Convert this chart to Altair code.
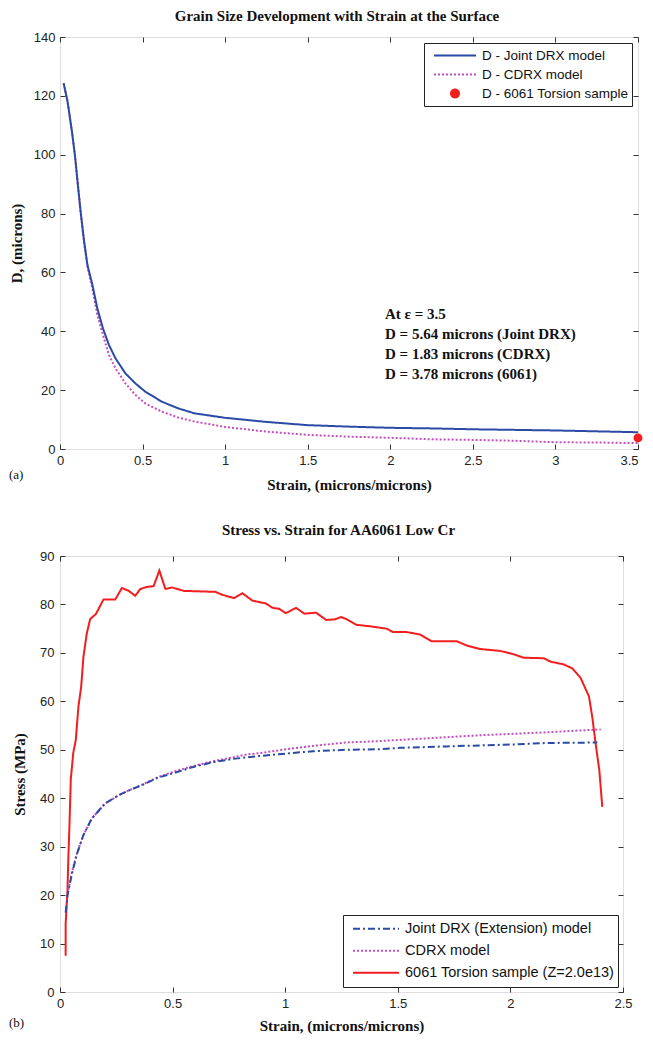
import altair as alt
import pandas as pd

# ---------------- Panel (a): grain size vs strain ----------------
SERIES_A = ["D - Joint DRX model", "D - CDRX model", "D - 6061 Torsion sample"]

strain_joint_a = [0.022, 0.046, 0.072, 0.09, 0.106, 0.126, 0.146, 0.166, 0.196, 0.226, 0.26, 0.296,
                  0.336, 0.396, 0.456, 0.516, 0.616, 0.716, 0.816, 1.0, 1.25, 1.5, 1.75, 2.0, 2.25,
                  2.5, 2.75, 3.0, 3.25, 3.5]
D_joint_a = [124.3, 118, 108, 100, 91, 80, 70.5, 62.6, 55.8, 47.8, 41, 35.4,
             30.8, 25.7, 22.3, 19.5, 16.1, 13.8, 12.1, 10.6, 9.2, 8.1, 7.6, 7.2, 7.0,
             6.7, 6.5, 6.3, 6.0, 5.7]

strain_cdrx_a = [0.022, 0.046, 0.072, 0.09, 0.106, 0.126, 0.146, 0.166, 0.196, 0.226, 0.26, 0.296,
                 0.336, 0.396, 0.456, 0.516, 0.616, 0.716, 0.816, 1.0, 1.25, 1.5, 1.75, 2.0, 2.25,
                 2.5, 2.75, 3.0, 3.25, 3.5]
D_cdrx_a = [124.3, 118, 108, 100, 91, 80, 70.5, 62.0, 54.6, 45.6, 38.8, 32.0,
            27.4, 22.3, 18.4, 15.5, 12.7, 10.7, 9.3, 7.5, 5.9, 4.8, 4.2, 3.8, 3.3,
            3.1, 2.8, 2.3, 2.2, 2.0]

sample_strain_a = [3.5]
sample_D_a = [3.78]

x_ticks_a = [0, 0.5, 1, 1.5, 2, 2.5, 3, 3.5]
y_ticks_a = [0, 20, 40, 60, 80, 100, 120, 140]

note_lines_a = ["At \u03b5 = 3.5", "D = 5.64 microns (Joint DRX)",
                "D = 1.83 microns (CDRX)", "D = 3.78 microns (6061)"]
note_strain_a = [1.968, 1.968, 1.968, 1.968]
note_D_a = [45.9, 39.1, 32.3, 25.5]

# ---------------- Panel (b): stress vs strain ----------------
SERIES_B = ["Joint DRX (Extension) model", "CDRX model", "6061 Torsion sample (Z=2.0e13)"]

strain_joint_b = [0.025, 0.034, 0.052, 0.074, 0.104, 0.141, 0.2, 0.26, 0.305, 0.364, 0.438, 0.513,
                  0.587, 0.676, 0.765, 0.825, 0.884, 0.973, 1.122, 1.271, 1.42, 1.51, 1.717, 2.015,
                  2.163, 2.386]
stress_joint_b = [16.4, 20.1, 24.2, 28.3, 32.4, 35.8, 38.9, 40.6, 41.6, 42.7, 44.3, 45.3,
                  46.4, 47.4, 48.1, 48.4, 48.7, 49.1, 49.7, 50.0, 50.1, 50.4, 50.7, 51.1,
                  51.4, 51.5]

strain_cdrx_b = [0.03, 0.052, 0.074, 0.104, 0.141, 0.2, 0.26, 0.305, 0.364, 0.438, 0.513, 0.587,
                 0.676, 0.765, 0.825, 0.884, 0.973, 1.122, 1.271, 1.42, 1.568, 1.717, 1.866, 2.015,
                 2.163, 2.312, 2.401]
stress_cdrx_b = [19.5, 24.5, 28.5, 32.4, 35.8, 38.9, 40.6, 41.6, 42.8, 44.4, 45.6, 46.6,
                 47.6, 48.4, 49.0, 49.3, 49.9, 50.8, 51.5, 51.8, 52.2, 52.6, 53.0, 53.3,
                 53.6, 54.0, 54.2]

strain_sample_b = [0.025, 0.025, 0.033, 0.037, 0.042, 0.048, 0.059, 0.07, 0.082, 0.094, 0.104, 0.119,
                   0.134, 0.159, 0.193, 0.245, 0.275, 0.305, 0.334, 0.357, 0.386, 0.416, 0.441, 0.468,
                   0.498, 0.55, 0.617, 0.69, 0.72, 0.773, 0.81, 0.854, 0.914, 0.944, 0.973, 1.003,
                   1.048, 1.085, 1.137, 1.182, 1.219, 1.248, 1.271, 1.316, 1.375, 1.45, 1.479, 1.539,
                   1.598, 1.65, 1.762, 1.807, 1.866, 1.955, 2.015, 2.059, 2.148, 2.178, 2.238, 2.275,
                   2.312, 2.349, 2.364, 2.379, 2.395, 2.408]
stress_sample_b = [7.5, 14, 20.8, 27.6, 34.4, 44, 49.4, 52, 59, 63, 69.2, 74,
                   77, 78, 81, 81, 83.4, 82.8, 81.8, 83.2, 83.6, 83.8, 87, 83.2,
                   83.5, 82.8, 82.7, 82.6, 82, 81.3, 82.3, 80.8, 80.2, 79.3, 79.1, 78.2,
                   79.3, 78.1, 78.3, 76.8, 76.9, 77.4, 77.0, 75.8, 75.5, 75.0, 74.3, 74.3,
                   73.8, 72.4, 72.4, 71.5, 70.8, 70.4, 69.7, 69.0, 68.9, 68.2, 67.6, 66.8,
                   64.8, 61.0, 56.6, 51.1, 45.7, 38.2]

x_ticks_b = [0, 0.5, 1, 1.5, 2, 2.5]
y_ticks_b = [0, 10, 20, 30, 40, 50, 60, 70, 80, 90]

# ---------------- styling ----------------
BLUE = "#2b4aa6"
MAGENTA = "#c64cbe"
RED = "#f21e1e"
SANS = "Liberation Sans"
SERIF = "Liberation Serif"
FRAME = "#333333"

DOT_PATH = ("M-0.19,0A0.19,0.19 0 1,0 0.19,0A0.19,0.19 0 1,0 -0.19,0"
            "M-0.12,0A0.12,0.12 0 1,0 0.12,0A0.12,0.12 0 1,0 -0.12,0"
            "M-0.05,0A0.05,0.05 0 1,0 0.05,0A0.05,0.05 0 1,0 -0.05,0Z")


def axis_main(orient, ticks, title, label_pad, title_pad, label_align=None):
    kw = {}
    if label_align is not None:
        kw["labelAlign"] = label_align
    return alt.Axis(orient=orient, values=ticks, format=".6~g", title=title,
                    offset=-5, tickSize=5, tickColor=FRAME, domain=False, grid=False,
                    minExtent=0, labelPadding=label_pad, labelFlush=False, labelOverlap=False,
                    labelFont=SANS, labelFontSize=13, labelColor="#222222",
                    titleFont=SERIF, titleFontSize=15, titleFontWeight="bold",
                    titleColor="#111111", titlePadding=title_pad, **kw)


def axis_ticks_only(orient, ticks):
    return alt.Axis(orient=orient, values=ticks, labels=False, title=None, minExtent=0,
                    maxExtent=0, offset=-5, tickSize=5, tickColor=FRAME, domain=False,
                    grid=False)


def long_table(groups):
    rows = []
    for name, xs, ys in groups:
        for i, (a, b) in enumerate(zip(xs, ys)):
            rows.append({"strain": a, "val": b, "series": name, "idx": i})
    return pd.DataFrame(rows)


# ---------------- chart (a) ----------------
xs_a = alt.Scale(domain=[0, 3.5], nice=False, zero=False)
ys_a = alt.Scale(domain=[0, 140], nice=False, zero=False)

legend_a = alt.Legend(
    title=None, orient="top-right", offset=6, padding=3, strokeColor="#222222",
    fillColor="white", labelFont=SANS, labelFontSize=13.5, labelColor="#111111",
    labelOffset=5, labelLimit=400, symbolSize=1764, symbolStrokeWidth=2,
    clipHeight=19, rowPadding=0, symbolOffset=6,
    symbolType=alt.ExprRef(f"datum.value === '{SERIES_A[2]}' ? '{DOT_PATH}' : 'stroke'"),
)

lines_a = long_table([(SERIES_A[1], strain_cdrx_a, D_cdrx_a),
                      (SERIES_A[0], strain_joint_a, D_joint_a)])

line_layer_a = alt.Chart(lines_a).mark_line(strokeWidth=2).encode(
    x=alt.X("strain:Q", scale=xs_a,
            axis=axis_main("bottom", x_ticks_a, "Strain, (microns/microns)", 5, 10,
                           {"condition": {"test": "datum.value >= 3.5", "value": "right"},
                            "value": "center"})),
    y=alt.Y("val:Q", scale=ys_a, axis=axis_main("left", y_ticks_a, "D, (microns)", 5, 9)),
    color=alt.Color("series:N", scale=alt.Scale(domain=SERIES_A, range=[BLUE, MAGENTA, RED]),
                    legend=legend_a),
    strokeDash=alt.StrokeDash("series:N",
                              scale=alt.Scale(domain=SERIES_A, range=[[1, 0], [2, 2], [1, 0]]),
                              legend=legend_a),
    order=alt.Order("idx:Q"),
)

dot_a = alt.Chart(pd.DataFrame({"strain": sample_strain_a, "val": sample_D_a})).mark_point(
    filled=True, size=80, color=RED, opacity=1).encode(
    x=alt.X("strain:Q", scale=xs_a, axis=None),
    y=alt.Y("val:Q", scale=ys_a, axis=None),
)

ticks_a = alt.Chart(pd.DataFrame({"strain": sample_strain_a, "val": sample_D_a})).mark_point(
    opacity=0).encode(
    x=alt.X("strain:Q", scale=xs_a, axis=axis_ticks_only("top", x_ticks_a)),
    y=alt.Y("val:Q", scale=ys_a, axis=axis_ticks_only("right", y_ticks_a)),
)

note_a = alt.Chart(pd.DataFrame({"strain": note_strain_a, "val": note_D_a,
                                 "txt": note_lines_a})).mark_text(
    align="left", baseline="middle", font=SERIF, fontSize=15, fontWeight="bold",
    color="#111111").encode(
    x=alt.X("strain:Q", scale=xs_a, axis=None),
    y=alt.Y("val:Q", scale=ys_a, axis=None),
    text="txt:N",
)

tag_a = alt.Chart(pd.DataFrame({"t": ["(a)"]})).mark_text(
    align="left", baseline="middle", font=SERIF, fontSize=13, color="#111111").encode(
    x=alt.value(-51), y=alt.value(438), text="t:N")

chart_a = alt.layer(line_layer_a, dot_a, ticks_a, note_a, tag_a).resolve_axis(
    x="independent", y="independent").properties(
    width=578, height=412,
    title=alt.TitleParams("Grain Size Development with Strain at the Surface", font=SERIF,
                          fontSize=15, fontWeight="bold", color="#111111", offset=7.5,
                          anchor="middle", dx=-12))

# ---------------- chart (b) ----------------
xs_b = alt.Scale(domain=[0, 2.5], nice=False, zero=False)
ys_b = alt.Scale(domain=[0, 90], nice=False, zero=False)

legend_b = alt.Legend(
    title=None, orient="bottom-right", offset=5, padding=3, strokeColor="#222222",
    fillColor="white", labelFont=SANS, labelFontSize=14.5, labelColor="#111111",
    labelOffset=5, labelLimit=400, symbolSize=2116, symbolStrokeWidth=2,
    clipHeight=21.5, rowPadding=0, symbolOffset=6, symbolType="stroke",
)

lines_b = long_table([(SERIES_B[2], strain_sample_b, stress_sample_b),
                      (SERIES_B[1], strain_cdrx_b, stress_cdrx_b),
                      (SERIES_B[0], strain_joint_b, stress_joint_b)])

line_layer_b = alt.Chart(lines_b).mark_line(strokeWidth=2).encode(
    x=alt.X("strain:Q", scale=xs_b,
            axis=axis_main("bottom", x_ticks_b, "Strain, (microns/microns)", 5, 8)),
    y=alt.Y("val:Q", scale=ys_b, axis=axis_main("left", y_ticks_b, "Stress (MPa)", 6, 12)),
    color=alt.Color("series:N", scale=alt.Scale(domain=SERIES_B, range=[BLUE, MAGENTA, RED]),
                    legend=legend_b),
    strokeDash=alt.StrokeDash("series:N",
                              scale=alt.Scale(domain=SERIES_B,
                                              range=[[7, 3, 2, 3], [2, 2], [1, 0]]),
                              legend=legend_b),
    order=alt.Order("idx:Q"),
)

ticks_b = alt.Chart(pd.DataFrame({"strain": [1.0], "val": [50.0]})).mark_point(
    opacity=0).encode(
    x=alt.X("strain:Q", scale=xs_b, axis=axis_ticks_only("top", x_ticks_b)),
    y=alt.Y("val:Q", scale=ys_b, axis=axis_ticks_only("right", y_ticks_b)),
)

tag_b = alt.Chart(pd.DataFrame({"t": ["(b)"]})).mark_text(
    align="left", baseline="middle", font=SERIF, fontSize=13, color="#111111").encode(
    x=alt.value(-51), y=alt.value(467), text="t:N")

chart_b = alt.layer(line_layer_b, ticks_b, tag_b).resolve_axis(
    x="independent", y="independent").properties(
    width=563, height=436,
    title=alt.TitleParams("Stress vs. Strain for AA6061 Low Cr", font=SERIF,
                          fontSize=15, fontWeight="bold", color="#111111", offset=12,
                          anchor="middle", dx=-3))

chart = alt.vconcat(chart_a, chart_b, spacing=29).resolve_scale(
    color="independent", strokeDash="independent").properties(
    padding={"left": 0, "top": 0, "right": 0, "bottom": 0},
    autosize=alt.AutoSizeParams(type="pad")).configure_view(
    stroke=FRAME, strokeWidth=1).configure(background="white")

chart.save("out.html", embed_options={"renderer": "svg", "actions": False})
